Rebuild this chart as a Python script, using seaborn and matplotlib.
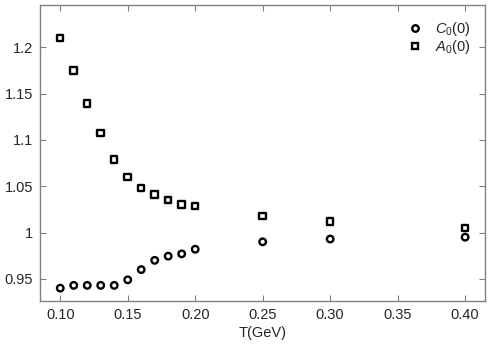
import matplotlib
matplotlib.use("Agg")
import matplotlib.pyplot as plt
import seaborn as sns
import pandas as pd

T = [0.10, 0.11, 0.12, 0.13, 0.14, 0.15, 0.16, 0.17, 0.18, 0.19, 0.20, 0.25, 0.30, 0.40]
C0 = [0.940, 0.943, 0.943, 0.943, 0.943, 0.949, 0.960, 0.970, 0.9745, 0.977, 0.982, 0.990, 0.993, 0.995]
A0 = [1.210, 1.175, 1.139, 1.1075, 1.079, 1.060, 1.048, 1.041, 1.035, 1.030, 1.0285, 1.018, 1.012, 1.005]
xticks = [0.10, 0.15, 0.20, 0.25, 0.30, 0.35, 0.40]
yticks = [0.95, 1.0, 1.05, 1.1, 1.15, 1.2]
yticklabels = ["0.95", "1", "1.05", "1.1", "1.15", "1.2"]
labC = r"$C_{\mathit{0}}$(0)"
labA = r"$A_{\mathit{0}}$(0)"

sns.set_style("ticks")
plt.rcParams["font.family"] = ["Liberation Sans", "DejaVu Sans"]
plt.rcParams["mathtext.fontset"] = "custom"
plt.rcParams["mathtext.it"] = "Liberation Sans:italic"
plt.rcParams["mathtext.rm"] = "Liberation Sans"

df = pd.DataFrame({"T": T + T,
                   "val": C0 + A0,
                   "series": [labC] * len(T) + [labA] * len(T)})

fig, ax = plt.subplots(figsize=(4.91, 3.47), dpi=100)
fig.subplots_adjust(left=0.082, right=0.988, top=0.985, bottom=0.133)

sns.scatterplot(data=df, x="T", y="val", hue="series", style="series",
                markers={labC: "o", labA: "s"},
                palette={labC: "black", labA: "black"},
                s=22, linewidth=1.7, ax=ax)
for coll in ax.collections:
    coll.set_facecolor("white")
    coll.set_edgecolor("black")

ax.set_xlim(0.0852, 0.4148)
ax.set_ylim(0.9263, 1.2453)
ax.set_xticks(xticks)
ax.set_xticklabels([f"{v:.2f}" for v in xticks])
ax.set_yticks(yticks)
ax.set_yticklabels(yticklabels)
ax.tick_params(direction="in", top=True, right=True, length=4, width=0.8,
               color="#808080", labelsize=10.5, pad=5)
for sp in ax.spines.values():
    sp.set_color("#808080")
    sp.set_linewidth(1.0)
ax.set_xlabel("T(GeV)", fontsize=10.5, labelpad=3)
ax.set_ylabel("")

leg = ax.legend(loc="upper right", frameon=False, fontsize=10.5, handletextpad=0.75,
                borderaxespad=0.6, labelspacing=0.0, handlelength=1.2)
for h in leg.legend_handles:
    if hasattr(h, "set_markerfacecolor"):
        h.set_markerfacecolor("white")
        h.set_markeredgecolor("black")
        h.set_markeredgewidth(1.7)
    else:
        h.set_facecolor("white")
        h.set_edgecolor("black")

fig.savefig("out.png", dpi=100)
